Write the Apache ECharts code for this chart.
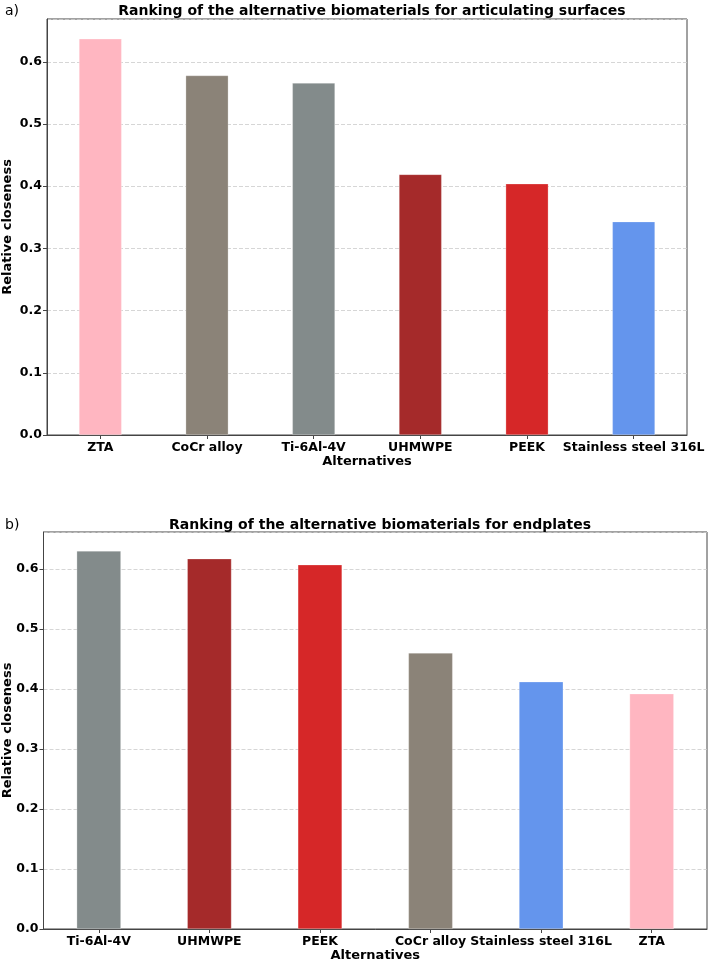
<!DOCTYPE html>
<html><head><meta charset="utf-8">
<script src="https://cdn.jsdelivr.net/npm/echarts@6/dist/echarts.min.js"></script>
<style>html,body{margin:0;padding:0;background:#fff}#c{width:708px;height:962px}</style>
</head><body><div id="c"></div>
<script>
const catsA = ['ZTA','CoCr alloy','Ti-6Al-4V','UHMWPE','PEEK','Stainless steel 316L'];
const valsA = [0.637,0.578,0.566,0.419,0.404,0.343];
const catsB = ['Ti-6Al-4V','UHMWPE','PEEK','CoCr alloy','Stainless steel 316L','ZTA'];
const valsB = [0.630,0.617,0.607,0.460,0.412,0.392];
const colorMap = {
  'ZTA':'#FFB6C1','CoCr alloy':'#8B8378','Ti-6Al-4V':'#838B8B',
  'UHMWPE':'#A52A2A','PEEK':'#D62728','Stainless steel 316L':'#6495ED'
};
const FONT = 'DejaVu Sans';
const chart = echarts.init(document.getElementById('c'));
function yAx(idx, max, gap){
  return {type:'value', gridIndex:idx, min:0, max:max, interval:0.1,
    name:'Relative closeness', nameLocation:'middle', nameGap:gap, nameMoveOverlap:false,
    nameTextStyle:{fontFamily:FONT,fontWeight:'bold',fontSize:13,color:'#000'},
    axisLine:{show:true,lineStyle:{color:'#444',width:1}},
    axisTick:{show:true,length:4,lineStyle:{color:'#444'}},
    axisLabel:{fontFamily:FONT,fontWeight:'bold',fontSize:12.5,color:'#000',margin:5,showMaxLabel:false,
      formatter:v=>Math.abs(v*10-Math.round(v*10))<1e-6?v.toFixed(1):''},
    splitLine:{show:true,lineStyle:{color:'#cccccc',type:[4,2],width:0.8}}};
}
function xAx(idx, cats){
  return {type:'category', gridIndex:idx, data:cats,
    name:'Alternatives', nameLocation:'middle', nameGap:20, nameMoveOverlap:false,
    nameTextStyle:{fontFamily:FONT,fontWeight:'bold',fontSize:13,color:'#000'},
    axisLine:{show:true,lineStyle:{color:'#444',width:1}},
    axisTick:{show:true,alignWithLabel:true,length:4,lineStyle:{color:'#444'}},
    axisLabel:{fontFamily:FONT,fontWeight:'bold',fontSize:12.5,color:'#000',margin:6,interval:0},
    splitLine:{show:false}};
}
function ser(idx, cats, vals){
  return {type:'bar', xAxisIndex:idx, yAxisIndex:idx, barWidth:'40%',
    data: vals.map((v,i)=>({value:v, itemStyle:{color:colorMap[cats[i]]}})),
    itemStyle:{borderColor:'rgba(255,255,255,0.5)',borderWidth:0.5}, silent:true, animation:false};
}
chart.setOption({
  animation:false,
  title:[
    {text:'a)',left:0,top:-1,textStyle:{fontFamily:FONT,fontWeight:'normal',fontSize:14,color:'#000'}},
    {text:'Ranking of the alternative biomaterials for articulating surfaces',left:367,top:-1,textAlign:'center',
      textStyle:{fontFamily:FONT,fontWeight:'bold',fontSize:14,color:'#000'}},
    {text:'b)',left:0,top:513,textStyle:{fontFamily:FONT,fontWeight:'normal',fontSize:14,color:'#000'}},
    {text:'Ranking of the alternative biomaterials for endplates',left:375,top:513,textAlign:'center',
      textStyle:{fontFamily:FONT,fontWeight:'bold',fontSize:14,color:'#000'}}
  ],
  grid:[
    {left:47,top:19,width:640,height:416,show:true,borderColor:'#444',borderWidth:1,containLabel:false,outerBoundsMode:'none'},
    {left:43.5,top:532,width:663.5,height:397,show:true,borderColor:'#444',borderWidth:1,containLabel:false,outerBoundsMode:'none'}
  ],
  xAxis:[xAx(0,catsA), xAx(1,catsB)],
  yAxis:[yAx(0,0.637*1.05,33), yAx(1,0.630*1.05,29.5)],
  series:[ser(0,catsA,valsA), ser(1,catsB,valsB)]
});
</script></body></html>
